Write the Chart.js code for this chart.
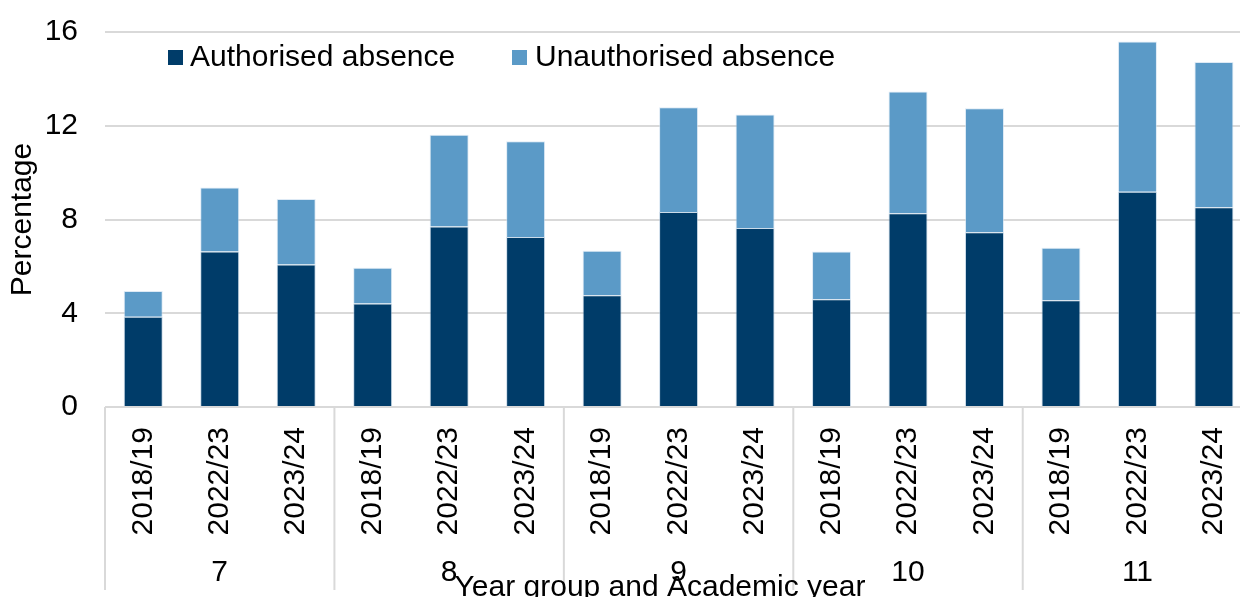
<!DOCTYPE html>
<html>
<head>
<meta charset="utf-8">
<script src="https://cdn.jsdelivr.net/npm/chart.js@4/dist/chart.umd.min.js"></script>
<style>
  html, body { margin: 0; padding: 0; background: #ffffff; overflow: hidden; }
  #wrap { width: 1240px; height: 597px; overflow: hidden; }
  canvas { display: block; }
</style>
</head>
<body>
<div id="wrap"><canvas id="chart" width="1270" height="597"></canvas></div>
<script>
// Year groups and the academic years shown within each group
const yearGroups = ['7', '8', '9', '10', '11'];
const academicYears = ['2018/19', '2022/23', '2023/24'];

// Absence rates (%), in order: year group, then academic year
const authorised = [3.85, 6.64, 6.08, 4.42, 7.70, 7.25, 4.77, 8.32, 7.64, 4.60, 8.27, 7.46, 4.55, 9.18, 8.52];
const unauthorised = [1.10, 2.73, 2.79, 1.52, 3.92, 4.09, 1.90, 4.47, 4.84, 2.04, 5.19, 5.29, 2.25, 6.41, 6.20];

const yTicks = [0, 4, 8, 12, 16];
const seriesNames = ['Authorised absence', 'Unauthorised absence'];
const xTitle = 'Year group and Academic year';
const yTitle = 'Percentage';

const labels = [];
yearGroups.forEach(() => academicYears.forEach(y => labels.push(y)));

const FONT = "'Liberation Sans', Arial, sans-serif";
const INK = '#000000';
const GRID = '#d9d9d9';
Chart.defaults.font.family = FONT;
Chart.defaults.color = INK;

// Group labels, group separators, axis title and legend
const decorations = {
  id: 'decorations',
  afterDraw(chart) {
    const { ctx, chartArea, scales: { x } } = chart;
    const n = academicYears.length;
    const step = x.getPixelForValue(1) - x.getPixelForValue(0);
    ctx.save();
    ctx.strokeStyle = GRID;
    ctx.lineWidth = 2;
    ctx.fillStyle = INK;
    ctx.font = '30px ' + FONT;
    ctx.textAlign = 'center';
    ctx.textBaseline = 'middle';
    yearGroups.forEach((g, gi) => {
      const first = x.getPixelForValue(gi * n);
      const last = x.getPixelForValue(gi * n + n - 1);
      const left = first - step / 2;
      ctx.beginPath();
      ctx.moveTo(left, chartArea.bottom);
      ctx.lineTo(left, 590);
      ctx.stroke();
      ctx.fillText(g, (first + last) / 2, 573);
      if (gi === yearGroups.length - 1) {
        const right = last + step / 2;
        ctx.beginPath();
        ctx.moveTo(right, chartArea.bottom);
        ctx.lineTo(right, 590);
        ctx.stroke();
      }
    });

    // x-axis title
    ctx.textBaseline = 'alphabetic';
    ctx.fillText(xTitle, 660, 596);

    // legend inside the plot
    ctx.textAlign = 'left';
    ctx.textBaseline = 'middle';
    const legendPos = [[168, 190], [512, 535]];
    chart.data.datasets.forEach((ds, i) => {
      const [bx, tx] = legendPos[i];
      ctx.fillStyle = ds.backgroundColor;
      ctx.fillRect(bx, 50, 15, 15);
      ctx.fillStyle = INK;
      ctx.fillText(ds.label, tx, 58);
    });
    ctx.restore();
  }
};

new Chart(document.getElementById('chart'), {
  type: 'bar',
  data: {
    labels: labels,
    datasets: [
      {
        label: seriesNames[0],
        data: authorised,
        backgroundColor: '#003c69',
        borderColor: 'rgba(160,190,215,0.55)',
        borderWidth: 1,
        barPercentage: 0.51,
        categoryPercentage: 1
      },
      {
        label: seriesNames[1],
        data: unauthorised,
        backgroundColor: '#5b9ac7',
        borderColor: 'rgba(200,220,238,0.6)',
        borderWidth: 1,
        barPercentage: 0.51,
        categoryPercentage: 1
      }
    ]
  },
  options: {
    responsive: false,
    animation: false,
    devicePixelRatio: 1,
    layout: { padding: { top: 32, right: 2, left: 0, bottom: 0 } },
    plugins: {
      legend: { display: false },
      tooltip: { enabled: false }
    },
    scales: {
      x: {
        stacked: true,
        grid: { display: false, drawTicks: false },
        border: { display: false },
        ticks: {
          minRotation: 90,
          maxRotation: 90,
          autoSkip: false,
          padding: 20,
          font: { size: 30 },
          color: INK
        },
        afterFit(scale) { scale.height = 190; }
      },
      y: {
        stacked: true,
        min: 0,
        max: 16,
        afterBuildTicks(scale) { scale.ticks = yTicks.map(v => ({ value: v })); },
        grid: { color: GRID, lineWidth: 2, drawTicks: false },
        border: { display: false },
        ticks: {
          padding: 27,
          font: { size: 30, lineHeight: 0.5 },
          color: INK
        },
        title: {
          display: true,
          text: yTitle,
          font: { size: 30 },
          color: INK,
          padding: { top: 5, bottom: 0 }
        },
        afterFit(scale) {
          scale.width = 105;
          scale.paddingTop = 0;
          scale.paddingBottom = 0;
        }
      }
    }
  },
  plugins: [decorations]
});
</script>
</body>
</html>
